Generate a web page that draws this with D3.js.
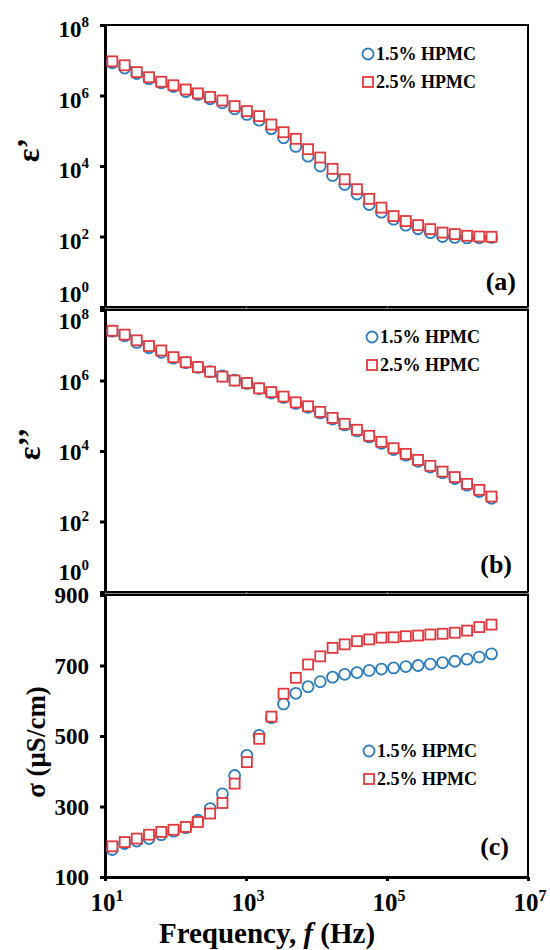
<!DOCTYPE html>
<html>
<head>
<meta charset="utf-8">
<script src="https://cdn.jsdelivr.net/npm/d3@7"></script>
<style>
  body { margin: 0; background: #fff; }
  svg { display: block; }
  text { font-family: "Liberation Serif", "Times New Roman", serif; font-weight: bold; fill: #000; }
</style>
</head>
<body>
<svg id="chart" width="550" height="950"></svg>
<script>
// frequency (Hz) of each measured point
const freq = [12.7, 19, 28.2, 42.1, 62.8, 93.6, 140, 208, 310, 463, 690, 1030, 1535, 2290, 3410, 5090,
  7590, 11300, 16900, 25100, 37500, 55900, 83400, 124000, 185000, 276000, 412000, 614000, 916000,
  1366000, 2037000, 3037000];

// (a) real permittivity
const epsReal15 = [8.5e6, 6.0e6, 4.2e6, 3.0e6, 2.3e6, 1.8e6, 1.3e6, 1.07e6, 8.1e5, 6.2e5, 4.2e5, 2.9e5,
  2.0e5, 1.15e5, 6.3e4, 3.6e4, 1.9e4, 1.0e4, 5.4e3, 3.0e3, 1.6e3, 810, 490, 310, 210, 166, 129, 100,
  94, 91, 92, 94];
const epsReal25 = [9.3e6, 7.2e6, 4.6e6, 3.3e6, 2.45e6, 1.95e6, 1.48e6, 1.15e6, 9.1e5, 7.2e5, 5.0e5, 3.6e5,
  2.6e5, 1.5e5, 9.1e4, 5.9e4, 3.0e4, 1.74e4, 8.3e3, 4.2e3, 2.2e3, 1170, 660, 380, 275, 210, 162, 129,
  117, 105, 100, 98];

// (b) imaginary permittivity
const epsImag15 = [2.5e7, 1.86e7, 1.2e7, 8.5e6, 6.3e6, 4.3e6, 3.2e6, 2.35e6, 1.78e6, 1.35e6, 1.02e6, 8.3e5,
  5.9e5, 4.4e5, 3.3e5, 2.24e5, 1.74e5, 1.2e5, 8.1e4, 5.5e4, 3.7e4, 2.5e4, 1.66e4, 1.1e4, 7600, 5100,
  3500, 2400, 1660, 1070, 710, 457];
const epsImag25 = [2.57e7, 2.0e7, 1.38e7, 9.5e6, 7.1e6, 4.6e6, 3.3e6, 2.4e6, 1.78e6, 1.29e6, 1.0e6, 8.5e5,
  6.0e5, 4.7e5, 3.5e5, 2.4e5, 1.86e5, 1.29e5, 8.7e4, 5.9e4, 4.0e4, 2.7e4, 1.82e4, 1.2e4, 8300, 5600,
  3800, 2600, 1820, 1170, 790, 510];

// (c) conductivity, µS/cm
const sigma15 = [178, 195, 202, 209, 220, 230, 240, 261, 294, 336, 388, 445, 502, 552, 591, 621, 640, 654,
  667, 675, 680, 686, 690, 693, 697, 700, 704, 708, 712, 718, 724, 733];
const sigma25 = [187, 199, 209, 220, 228, 234, 242, 256, 280, 310, 365, 426, 492, 555, 620, 665, 703, 726,
  750, 760, 769, 774, 779, 780, 783, 785, 788, 790, 793, 799, 809, 816];

const seriesNames = ["1.5% HPMC", "2.5% HPMC"];
const freqTicks = [1e1, 1e3, 1e5, 1e7];
const logTicks = [1, 1e2, 1e4, 1e6, 1e8];
const sigmaTicks = [100, 300, 500, 700, 900];
const panelLabels = ["(a)", "(b)", "(c)"];
const yTitles = ["ε\u2019", "ε\u2019\u2019", "σ (μS/cm)"];

const blue = "#2b7bbf";
const red = "#e0393e";
const svg = d3.select("#chart");
const left = 105, right = 528;

const x = d3.scaleLog().domain([10, 1e7]).range([left, right]);

const panels = [
  { top: 25, bottom: 307, log: true, s1: epsReal15, s2: epsReal25, legY: 54, legX: 368, labY: 290, labX: 516, titleY: 150, titleX: 28 },
  { top: 310, bottom: 592, log: true, s1: epsImag15, s2: epsImag25, legY: 337, legX: 372, labY: 573, labX: 512, titleY: 444, titleX: 29 },
  { top: 595, bottom: 877, log: false, s1: sigma15, s2: sigma25, legY: 751, legX: 369, labY: 855, labX: 509, titleY: 742, titleX: 36 },
];

// baseline shift of the log tick labels, nudged at the ends so stacked panels don't collide
function logLabelShift(d, k) {
  if (d === 1) return k === 0 ? -5 : -12;
  if (d === 1e8) return k === 0 ? 12 : 19;
  return k === 0 ? 12 : 9;
}

panels.forEach((p, k) => {
  const y = p.log
    ? d3.scaleLog().domain([1, 1e8]).range([p.bottom, p.top])
    : d3.scaleLinear().domain([100, 900]).range([p.bottom, p.top]);
  const g = svg.append("g");

  // frame
  g.append("rect")
    .attr("x", left).attr("y", p.top)
    .attr("width", right - left).attr("height", p.bottom - p.top)
    .attr("fill", "none").attr("stroke", "#000").attr("stroke-width", 2);

  // x axis ticks
  const last = k === 2;
  const ax = g.append("g")
    .attr("transform", `translate(0,${p.bottom})`)
    .call(d3.axisBottom(x).tickValues(freqTicks).tickSize(last ? 4 : 3).tickSizeOuter(0).tickFormat(""));
  ax.select(".domain").attr("stroke-width", last ? 3 : 2);
  ax.selectAll(".tick line").attr("stroke-width", last ? 3 : 1).attr("stroke", last ? "#000" : "#888");

  // y axis
  const ay = g.append("g")
    .attr("transform", `translate(${left},0)`)
    .call(d3.axisLeft(y).tickValues(p.log ? logTicks : sigmaTicks).tickSize(5).tickSizeOuter(0).tickFormat(""));
  ay.select(".domain").attr("stroke-width", 3);
  ay.selectAll(".tick line").attr("stroke-width", 3);

  if (p.log) {
    const t = g.selectAll(".ylab").data(logTicks).join("text")
      .attr("text-anchor", "end")
      .attr("x", 89)
      .attr("y", (d) => y(d) + logLabelShift(d, k))
      .attr("font-size", 23);
    t.append("tspan").text("10");
    t.append("tspan").attr("dy", -10).attr("font-size", 15).text((d) => Math.round(Math.log10(d)));
  } else {
    g.selectAll(".ylab").data(sigmaTicks).join("text")
      .attr("text-anchor", "end")
      .attr("x", 89)
      .attr("y", (d) => y(d) + 8)
      .attr("font-size", 23)
      .text((d) => d);
  }

  // y title
  g.append("text")
    .attr("transform", `translate(${p.titleX},${p.titleY}) rotate(-90)`)
    .attr("text-anchor", "middle")
    .attr("dy", "0.35em")
    .attr("font-size", k === 2 ? 27 : 32)
    .text(yTitles[k]);

  // markers
  g.append("g").selectAll("circle").data(p.s1).join("circle")
    .attr("cx", (d, i) => x(freq[i]))
    .attr("cy", (d) => y(d))
    .attr("r", 5.5)
    .attr("fill", "none")
    .attr("stroke", blue)
    .attr("stroke-width", 1.8);

  g.append("g").selectAll("rect").data(p.s2).join("rect")
    .attr("x", (d, i) => x(freq[i]) - 5)
    .attr("y", (d) => y(d) - 5)
    .attr("width", 10).attr("height", 10)
    .attr("fill", "#fff")
    .attr("stroke", red)
    .attr("stroke-width", 1.8);

  // legend
  const leg = g.append("g").attr("transform", `translate(${p.legX},${p.legY})`);
  leg.append("circle").attr("r", 5.5).attr("fill", "none").attr("stroke", blue).attr("stroke-width", 1.8);
  leg.append("rect").attr("x", -5).attr("y", 23).attr("width", 10).attr("height", 10)
    .attr("fill", "#fff").attr("stroke", red).attr("stroke-width", 1.8);
  leg.selectAll("text").data(seriesNames).join("text")
    .attr("x", 8)
    .attr("y", (d, i) => 6 + i * 28)
    .attr("font-size", 18)
    .text((d) => d);

  // panel label
  g.append("text")
    .attr("x", p.labX).attr("y", p.labY)
    .attr("text-anchor", "end")
    .attr("font-size", 26)
    .text(panelLabels[k]);
});

// x tick labels on the bottom panel
const xl = svg.selectAll(".xlab").data(freqTicks).join("text")
  .attr("text-anchor", "middle")
  .attr("x", (d) => x(d) + 2)
  .attr("y", 911)
  .attr("font-size", 25);
xl.append("tspan").text("10");
xl.append("tspan").attr("dy", -10).attr("font-size", 16).text((d) => Math.round(Math.log10(d)));

const xt = svg.append("text")
  .attr("x", 267).attr("y", 943)
  .attr("text-anchor", "middle")
  .attr("font-size", 29);
xt.append("tspan").text("Frequency, ");
xt.append("tspan").attr("font-style", "italic").text("f");
xt.append("tspan").text(" (Hz)");
</script>
</body>
</html>
